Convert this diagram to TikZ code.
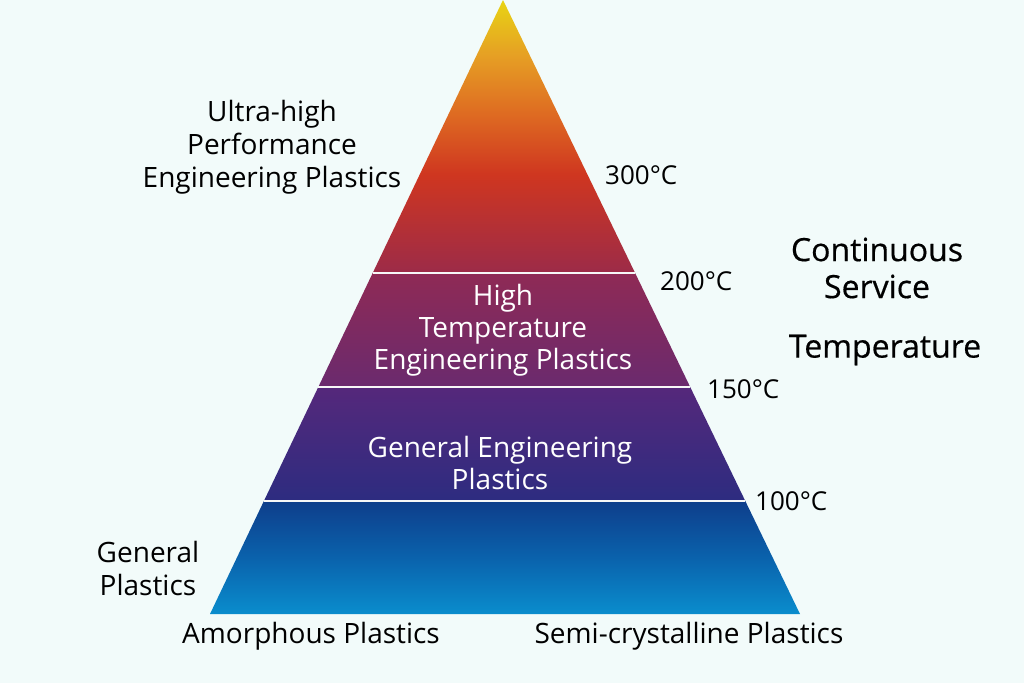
\documentclass[tikz,border=0pt]{standalone}
\usepackage{fontspec}
\setmainfont{Open Sans}
\newfontfamily\semib[FakeBold=0.5]{Open Sans}
\definecolor{bg}{HTML}{F2FBFA}
\definecolor{cyel}{HTML}{E8D414}
\definecolor{corA}{HTML}{E6A024}
\definecolor{corB}{HTML}{DE6A22}
\definecolor{cred}{HTML}{CF3620}
\definecolor{cmar}{HTML}{9C2B48}
\definecolor{bTwoT}{HTML}{8F2A55}
\definecolor{bTwoB}{HTML}{6A2A6E}
\definecolor{bThrT}{HTML}{55287B}
\definecolor{bThrB}{HTML}{2D2C80}
\definecolor{bFouT}{HTML}{0E3E8B}
\definecolor{bFouM}{HTML}{0A62AC}
\definecolor{bFouB}{HTML}{0A8DCD}
\pgfdeclareverticalshading{topband}{100bp}{color(0bp)=(cmar); color(25bp)=(cmar); color(43bp)=(cred); color(54bp)=(corB); color(65bp)=(corA); color(75bp)=(cyel); color(100bp)=(cyel)}
\pgfdeclareverticalshading{baseband}{100bp}{color(0bp)=(bFouB); color(25bp)=(bFouB); color(50bp)=(bFouM); color(75bp)=(bFouT); color(100bp)=(bFouT)}
\tikzset{
  lbl/.style={font=\fontsize{28}{33}\selectfont, text=black, align=center, inner sep=0pt},
  inlbl/.style={font=\fontsize{28}{32}\selectfont, text=white, align=center, inner sep=0pt},
  temp/.style={font=\fontsize{26}{30}\selectfont, text=black, anchor=west, inner sep=0pt},
  axis/.style={font=\semib\fontsize{32}{37}\selectfont, text=black, align=center, inner sep=0pt},
  sep/.style={draw=white!94!gray, line width=2pt}
}
\begin{document}
\begin{tikzpicture}[x=1pt,y=-1pt]
\fill[bg] (0,0) rectangle (1024,683);
\useasboundingbox (0,0) rectangle (1024,683);
% pyramid corners
\coordinate (A) at (503,0);
\coordinate (L1) at (372.7,273); \coordinate (R1) at (635.1,273);
\coordinate (L2) at (318.3,387); \coordinate (R2) at (690.2,387);
\coordinate (L3) at (263.9,501); \coordinate (R3) at (745.3,501);
\coordinate (BL) at (210,614); \coordinate (BR) at (800,614);
% bands
\shade[shading=topband] (A) -- (R1) -- (L1) -- cycle;
\shade[top color=bTwoT, bottom color=bTwoB] (L1) -- (R1) -- (R2) -- (L2) -- cycle;
\shade[top color=bThrT, bottom color=bThrB] (L2) -- (R2) -- (R3) -- (L3) -- cycle;
\shade[shading=baseband] (L3) -- (R3) -- (BR) -- (BL) -- cycle;
\draw[sep] (L1) -- (R1);
\draw[sep] (L2) -- (R2);
\draw[sep] (L3) -- (R3);
% inner labels
\node[inlbl] (hte) at (503,330) {High\\Temperature\\Engineering Plastics};
\node[inlbl] (gep) at (500,463) {General Engineering\\Plastics};
% outer labels
\node[lbl] (uhp) at (272,147) {Ultra-high\\Performance\\Engineering Plastics};
\node[lbl] (gp) at (148,568) {General\\Plastics};
\node[lbl] (amo) at (311,636) {Amorphous Plastics};
\node[lbl] (semi) at (689,636) {Semi-crystalline Plastics};
% temperatures
\node[temp] (t300) at (605,175) {300°C};
\node[temp] (t200) at (660,281) {200°C};
\node[temp] (t150) at (707,389) {150°C};
\node[temp] (t100) at (755,501) {100°C};
% axis title
\node[axis] (cs) at (877,268) {Continuous\\Service};
\node[axis] (tmp) at (885,350) {Temperature};
\end{tikzpicture}
\end{document}
